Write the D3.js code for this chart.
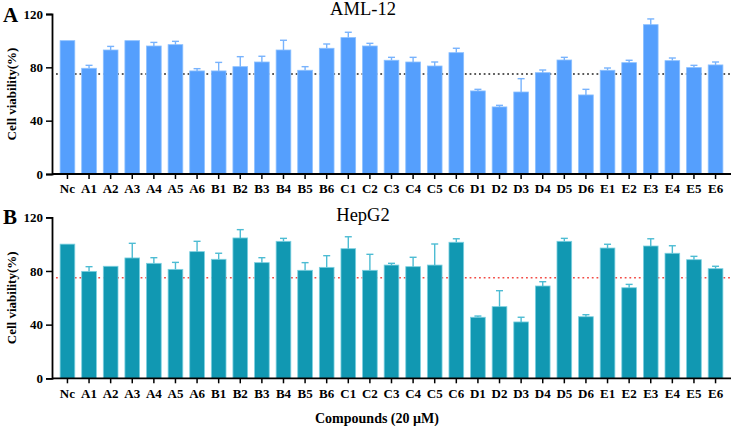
<!DOCTYPE html>
<html>
<head>
<meta charset="utf-8">
<script src="https://cdn.jsdelivr.net/npm/d3@7"></script>
<style>
  body { margin: 0; background: #fff; }
  svg, svg text { font-family: "Liberation Serif", "Times New Roman", serif; }
</style>
</head>
<body>
<div id="chart"></div>
<script>
// compounds on the x axis
var compounds = ["Nc","A1","A2","A3","A4","A5","A6","B1","B2","B3","B4","B5","B6",
  "C1","C2","C3","C4","C5","C6","D1","D2","D3","D4","D5","D6","E1","E2","E3","E4","E5","E6"];

// AML-12 cell viability (%) and SD
var amlMean = [100,79.3,93,100,96,97,77.3,77.3,80.5,84,93,77.8,94.3,
  102.3,96,85.3,84,81,91,62.3,50.3,61.5,76,85.5,59.3,77.8,83.5,112,85,79.8,81.8];
var amlSd = [0,2.2,2.7,0,2.7,2.5,1.7,6.4,7.5,4.3,7.3,2.7,3.2,
  4,2,2.2,3.5,3,3.3,1.2,1.2,10,2,2,4.2,1.7,1.8,4.3,2,1.7,2.2];

// HepG2 cell viability (%) and SD
var hepMean = [100,79.7,83.5,89.7,85.7,81.2,94.4,88.7,104.6,86.2,102.1,80.5,82.7,
  96.6,80.5,84.4,83.2,84.4,101.4,45.5,53.4,42,68.8,102.1,45.9,97.1,67.5,98.6,93.2,88.4,81.7];
var hepSd = [0,3.5,0,10.9,4.2,5.2,7.7,4.5,6.2,3.7,2.2,5.7,8.7,
  8.9,11.9,1.3,7,15.7,2.6,0.9,11.9,3.5,3.2,2.2,1.5,2.8,2.5,5.4,5.6,2.5,1.8];

var yTicks = [0, 40, 80, 120];
var threshold = 75;

var W = 734, H = 426;
var serif = "'Liberation Serif', 'Times New Roman', serif";
var svg = d3.select("#chart").append("svg").attr("width", W).attr("height", H);

var x = d3.scaleBand()
  .domain(compounds)
  .range([52, 731])
  .paddingInner(0.32)
  .paddingOuter(0.375);

function panel(opt) {
  var y = d3.scaleLinear().domain([0, 120]).range([opt.y0, opt.y1]);
  var g = svg.append("g");

  // dotted threshold line (sits behind the bars)
  g.append("line")
    .attr("x1", 56).attr("x2", 731)
    .attr("y1", y(threshold)).attr("y2", y(threshold))
    .attr("stroke", opt.dot)
    .attr("stroke-width", 1.6)
    .attr("stroke-dasharray", "1.8,2.9");

  // bars
  g.selectAll(".bar")
    .data(opt.mean)
    .enter()
    .append("rect")
    .attr("class", "bar")
    .attr("x", function(d, i) { return x(compounds[i]); })
    .attr("y", function(d) { return y(d); })
    .attr("width", x.bandwidth())
    .attr("height", function(d) { return y(0) - y(d); })
    .attr("fill", opt.fill)
    .attr("stroke", opt.edge)
    .attr("stroke-width", 0.8);

  // error bars (upper only)
  var eb = g.selectAll(".err")
    .data(opt.mean.map(function(m, i) { return { c: compounds[i], m: m, s: opt.sd[i] }; })
      .filter(function(d) { return d.s > 0; }))
    .enter()
    .append("g")
    .attr("stroke", opt.err)
    .attr("stroke-width", 1.4);
  eb.append("line")
    .attr("x1", function(d) { return x(d.c) + x.bandwidth() / 2; })
    .attr("x2", function(d) { return x(d.c) + x.bandwidth() / 2; })
    .attr("y1", function(d) { return y(d.m); })
    .attr("y2", function(d) { return y(d.m + d.s); });
  eb.append("line")
    .attr("x1", function(d) { return x(d.c) + x.bandwidth() / 2 - 3.5; })
    .attr("x2", function(d) { return x(d.c) + x.bandwidth() / 2 + 3.5; })
    .attr("y1", function(d) { return y(d.m + d.s); })
    .attr("y2", function(d) { return y(d.m + d.s); });

  // axes
  var ya = g.append("g")
    .attr("transform", "translate(52,0)")
    .call(d3.axisLeft(y).tickValues(yTicks).tickSize(6).tickPadding(3));
  var xa = g.append("g")
    .attr("transform", "translate(0," + y(0) + ")")
    .call(d3.axisBottom(x).tickSize(5).tickPadding(5).tickSizeOuter(0));
  [ya, xa].forEach(function(a) {
    a.attr("font-family", serif).attr("font-size", 13);
    a.select(".domain").attr("stroke", "#000").attr("stroke-width", 1.8);
    a.selectAll(".tick line").attr("stroke", "#000").attr("stroke-width", 1.5);
    a.selectAll("text")
      .attr("fill", "#000")
      .attr("font-weight", "bold");
  });
  xa.select(".domain").attr("d", "M52,0H731");

  // title
  g.append("text")
    .attr("x", 363).attr("y", opt.titleY)
    .attr("text-anchor", "middle")
    .attr("font-family", serif)
    .attr("font-size", 18.5)
    .text(opt.title);

  // panel letter
  g.append("text")
    .attr("x", 3).attr("y", opt.letterY)
    .attr("font-family", serif)
    .attr("font-size", 21)
    .attr("font-weight", "bold")
    .text(opt.letter);

  // y label
  g.append("text")
    .attr("transform", "translate(16," + ((opt.y0 + opt.y1) / 2) + ") rotate(-90)")
    .attr("text-anchor", "middle")
    .attr("font-family", serif)
    .attr("font-size", 13)
    .attr("font-weight", "bold")
    .text("Cell viability(%)");
}

panel({
  mean: amlMean, sd: amlSd, y0: 174, y1: 14,
  fill: "#559ffd", edge: "#8cc0ff", err: "#78b3fd", dot: "#222",
  title: "AML-12", titleY: 15, letter: "A", letterY: 22
});

panel({
  mean: hepMean, sd: hepSd, y0: 378.3, y1: 217.3,
  fill: "#1198b2", edge: "#7dd0e0", err: "#4dbcd3", dot: "#f24b45",
  title: "HepG2", titleY: 221, letter: "B", letterY: 224
});

svg.append("text")
  .attr("x", 377).attr("y", 423)
  .attr("text-anchor", "middle")
  .attr("font-family", serif)
  .attr("font-size", 14)
  .attr("font-weight", "bold")
  .text("Compounds (20 µM)");
</script>
</body>
</html>
